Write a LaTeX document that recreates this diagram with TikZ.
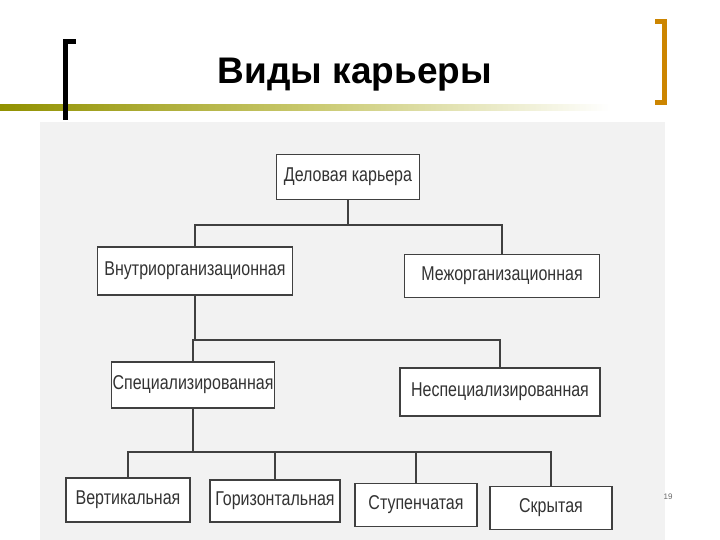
\documentclass[tikz,border=0pt]{standalone}
\usepackage{fontspec}
\setmainfont{Liberation Sans}
\newfontfamily\narrow[FakeStretch=0.8]{Liberation Sans}
\begin{document}
\begin{tikzpicture}[x=1pt,y=-1pt,
  bx/.style={draw=black!75,line width=1.3pt,fill=white,inner sep=0pt,font=\narrow\fontsize{20}{22}\selectfont\color{black!80}},
  ln/.style={draw=black!75,line width=1.3pt}]
\useasboundingbox (0,0) rectangle (720,540);
\fill[black!5] (40,122) rectangle (665,540);
\fill[left color=olive!70!yellow!80!black!90,right color=white] (0,105) rectangle (610,111);
\draw[line width=5pt] (65,120) -- (65,42) -- (76,42);
\draw[line width=5pt,draw=orange!70!yellow!80!black] (655,22) -- (664,22) -- (664,103) -- (655,103);
\node[font=\bfseries\fontsize{37}{40}\selectfont] (title) at (355,75) {Виды карьеры};
\node[font=\fontsize{8}{9}\selectfont,text=black!60] (pg) at (668,497) {19};
\node[bx,minimum width=143,minimum height=45] (d) at (348,177) {Деловая карьера};
\node[bx,minimum width=195,minimum height=48] (v) at (195,271) {Внутриорганизационная};
\node[bx,minimum width=195,minimum height=43] (m) at (502,276) {Межорганизационная};
\node[bx,minimum width=163,minimum height=46] (s) at (193,385) {Специализированная};
\node[bx,minimum width=200,minimum height=48] (n) at (500,392) {Неспециализированная};
\node[bx,minimum width=124,minimum height=44] (a) at (128,500) {Вертикальная};
\node[bx,minimum width=130,minimum height=42] (b) at (275,501) {Горизонтальная};
\node[bx,minimum width=122,minimum height=43] (c) at (416,505) {Ступенчатая};
\node[bx,minimum width=122,minimum height=43] (e) at (551,508) {Скрытая};
\coordinate (j1) at (348,225);
\draw[ln] (d.south) -- (j1);
\draw[ln] (v.north) |- (j1) -| (m.north);
\coordinate (j2) at (195,340);
\draw[ln] (v.south) -- (j2);
\draw[ln] (s.north) |- (j2) -| (n.north);
\coordinate (j3) at (193,452);
\draw[ln] (s.south) -- (j3);
\draw[ln] (a.north) |- (j3) -| (e.north);
\draw[ln] (j3) -| (b.north);
\draw[ln] (j3) -| (c.north);
\end{tikzpicture}
\end{document}
